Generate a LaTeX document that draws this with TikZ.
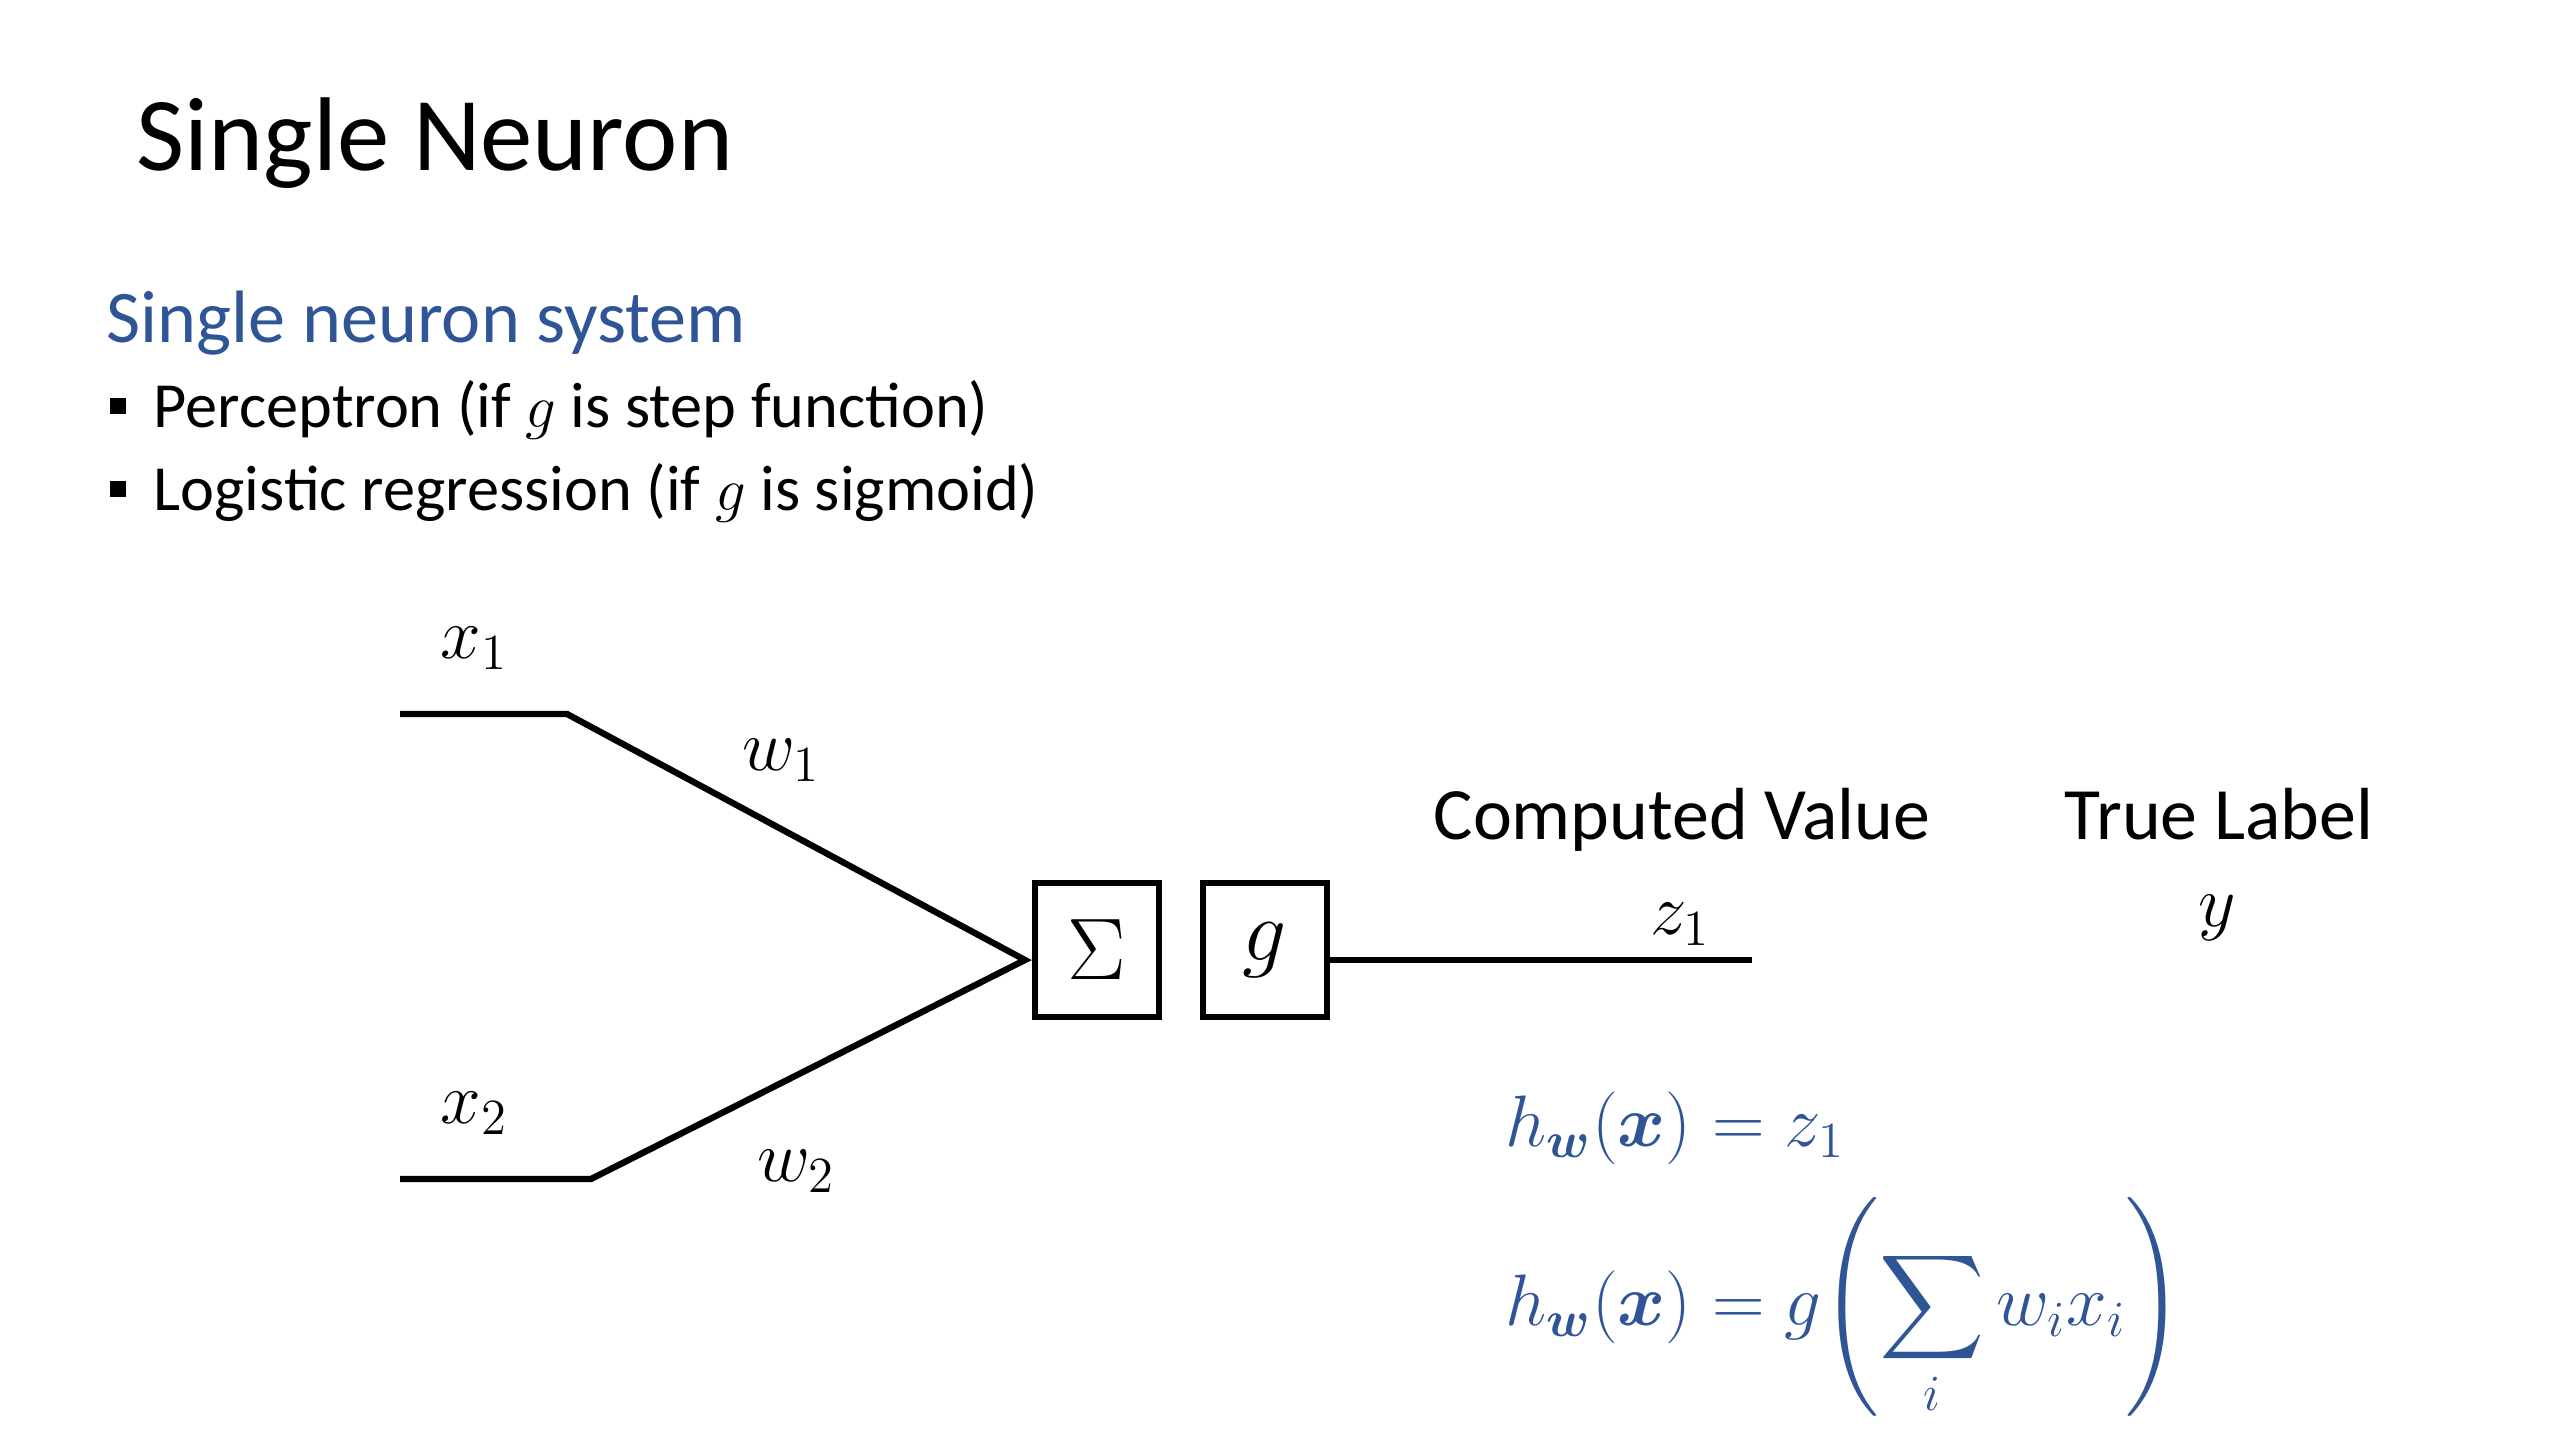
\documentclass[tikz,border=0pt]{standalone}
\usepackage{amsmath}
\usepackage{fontspec}
\newfontfamily\calibrifont{Carlito}
\definecolor{pptblue}{RGB}{47,85,151}
\tikzset{
  wire/.style={line width=1.8pt, line join=miter},
  opbox/.style={draw, line width=1.8pt, rectangle, minimum width=35.3pt, minimum height=38.1pt, inner sep=0pt},
  bulletsq/.style={fill=black, rectangle, minimum size=4.8pt, inner sep=0pt},
  bodytext/.style={anchor=base west, inner sep=0pt, font=\calibrifont\fontsize{18.3}{22}\selectfont},
  headtext/.style={anchor=base, inner sep=0pt, font=\calibrifont\fontsize{21}{25}\selectfont},
  mlabel/.style={inner sep=0pt, font=\fontsize{20}{24}\selectfont},
  eqtext/.style={anchor=west, inner sep=0pt, text=pptblue, font=\fontsize{21.4}{31}\selectfont},
}
\begin{document}
\begin{tikzpicture}[x=0.01cm,y=-0.01cm]
\useasboundingbox (0,0) rectangle (2560,1440);
\fill[white] (0,0) rectangle (2560,1440);

% headings
\node[anchor=base west, inner sep=0pt, font=\calibrifont\fontsize{29.8}{36}\selectfont] (title) at (136,171) {Single Neuron};
\node[anchor=base west, inner sep=0pt, text=pptblue, font=\calibrifont\fontsize{21.1}{26}\selectfont] (sub) at (106,343) {Single neuron system};
\node[bulletsq] (b1) at (118,406) {};
\node[bodytext] (t1) at (153,428) {Perceptron (if $g$ is step function)};
\node[bulletsq] (b2) at (118,489) {};
\node[bodytext] (t2) at (153,511) {Logistic regression (if $g$ is sigmoid)};

% diagram
\coordinate (in1) at (400,714);
\coordinate (k1) at (567,714);
\coordinate (apex) at (1025,960);
\coordinate (in2) at (400,1179);
\coordinate (k2) at (591,1179);
\node[opbox, font=\fontsize{28}{32}\selectfont] (sum) at (1097,950) {$\Sigma$};
\node[opbox, font=\fontsize{25}{29}\selectfont] (act) at (1265,950) {\raisebox{-2.5pt}{$g$}};
\coordinate (out) at (1752,960);
\draw[wire] (in1) -- (k1) -- (apex) -- (k2) -- (in2);
\draw[wire] (act.east |- apex) -- (out);

% labels
\node[mlabel] (lx1) at (474,648) {$x_1$};
\node[mlabel] (lw1) at (781,760) {$w_1$};
\node[mlabel] (lx2) at (474,1113) {$x_2$};
\node[mlabel] (lw2) at (796,1171) {$w_2$};
\node[mlabel] (lz1) at (1680,924) {$z_1$};
\node[mlabel] (ly) at (2217,918) {$y$};
\node[headtext] (cv) at (1682,840) {Computed Value};
\node[headtext] (tl) at (2219,840) {True Label};

% equations
\node[eqtext] (eq1) at (1505,1128) {$h_{\boldsymbol{w}}(\boldsymbol{x}) = z_1$};
\node[eqtext] (eq2) at (1505,1308) {$h_{\boldsymbol{w}}(\boldsymbol{x}) = g\Biggl(\displaystyle\sum_{i} w_i x_i\Biggr)$};
\end{tikzpicture}
\end{document}
